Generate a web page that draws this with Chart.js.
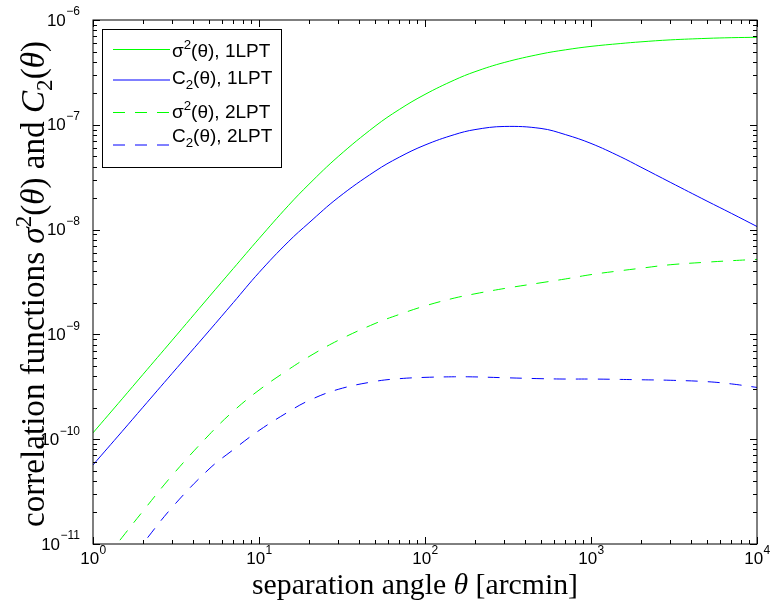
<!DOCTYPE html>
<html>
<head>
<meta charset="utf-8">
<script src="https://cdn.jsdelivr.net/npm/chart.js@4.4.1/dist/chart.umd.min.js"></script>
<style>
  html, body { margin: 0; padding: 0; background: #ffffff; }
  #wrap { width: 773px; height: 605px; }
</style>
</head>
<body>
<div id="wrap"><canvas id="chart" width="773" height="605"></canvas></div>
<script>
// Separation angle theta [arcmin]
const theta = [1, 1.5, 2, 3, 5, 7, 10, 15, 20, 30, 50, 70, 100, 150, 200, 300, 500, 700, 1000, 1500, 2000, 3000, 5000, 7000, 10000];

// sigma^2(theta) and C_2(theta) for first- and second-order LPT
const sigma2_1LPT = [1.15e-10, 2.43e-10, 4.15e-10, 8.8e-10, 2.28e-9, 4.25e-9, 8.2e-9, 1.69e-8, 2.71e-8, 4.98e-8, 9.68e-8, 1.40e-7, 1.95e-7, 2.67e-7, 3.21e-7, 3.93e-7, 4.74e-7, 5.19e-7, 5.60e-7, 5.96e-7, 6.19e-7, 6.46e-7, 6.68e-7, 6.78e-7, 6.84e-7];
const c2_1LPT = [5.68e-11, 1.19e-10, 2.02e-10, 4.25e-10, 1.08e-9, 2.01e-9, 3.89e-9, 7.64e-9, 1.16e-8, 2.02e-8, 3.60e-8, 4.91e-8, 6.41e-8, 8.05e-8, 9.0e-8, 9.64e-8, 9.23e-8, 8.07e-8, 6.64e-8, 4.97e-8, 3.94e-8, 2.83e-8, 1.87e-8, 1.43e-8, 1.07e-8];
const sigma2_2LPT = [5.1e-12, 1.16e-11, 2.06e-11, 4.52e-11, 1.10e-10, 1.85e-10, 2.94e-10, 4.60e-10, 6.14e-10, 8.77e-10, 1.27e-9, 1.55e-9, 1.87e-9, 2.22e-9, 2.44e-9, 2.74e-9, 3.11e-9, 3.38e-9, 3.72e-9, 4.05e-9, 4.28e-9, 4.62e-9, 4.89e-9, 5.05e-9, 5.20e-9];
const c2_2LPT = [2.5e-12, 5.65e-12, 1.01e-11, 2.24e-11, 5.19e-11, 7.94e-11, 1.21e-10, 1.82e-10, 2.34e-10, 2.99e-10, 3.56e-10, 3.78e-10, 3.89e-10, 3.94e-10, 3.93e-10, 3.86e-10, 3.78e-10, 3.75e-10, 3.75e-10, 3.72e-10, 3.69e-10, 3.65e-10, 3.54e-10, 3.37e-10, 3.12e-10];

// Decade tick values and their exponent labels
const xDecades = [1, 10, 100, 1000, 10000];
const xExponents = ['0', '1', '2', '3', '4'];
const yDecades = [1e-11, 1e-10, 1e-9, 1e-8, 1e-7, 1e-6];
const yExponents = ['\u221211', '\u221210', '\u22129', '\u22128', '\u22127', '\u22126'];

// Series labels (rich text pieces: sup / sub / italic)
const seriesNames = ['\u03c3\u00b2(\u03b8), 1LPT', 'C\u2082(\u03b8), 1LPT', '\u03c3\u00b2(\u03b8), 2LPT', 'C\u2082(\u03b8), 2LPT'];
const legendPieces = [
  [{ t: '\u03c3' }, { t: '2', sup: true }, { t: '(\u03b8), 1LPT' }],
  [{ t: 'C' }, { t: '2', sub: true }, { t: '(\u03b8), 1LPT' }],
  [{ t: '\u03c3' }, { t: '2', sup: true }, { t: '(\u03b8), 2LPT' }],
  [{ t: 'C' }, { t: '2', sub: true }, { t: '(\u03b8), 2LPT' }]
];
const xTitlePieces = [{ t: 'separation angle ' }, { t: '\u03b8', it: true }, { t: ' [arcmin]' }];
const yTitlePieces = [
  { t: 'correlation functions ' }, { t: '\u03c3', it: true }, { t: '2', sup: true },
  { t: '(' }, { t: '\u03b8', it: true }, { t: ') and ' }, { t: 'C', it: true },
  { t: '2', sub: true }, { t: '(' }, { t: '\u03b8', it: true }, { t: ')' }
];

const GREEN = '#00ff00';
const BLUE = '#0000ff';
const DASH = [12, 10];

function pts(ys) { return theta.map((x, i) => ({ x: x, y: ys[i] })); }

function richFont(p, size, family) {
  const s = (p.sup || p.sub) ? size * 0.7 : size;
  return (p.it ? 'italic ' : '') + s.toFixed(2) + 'px ' + family;
}
function richWidth(ctx, pieces, size, family) {
  let w = 0;
  pieces.forEach(p => { ctx.font = richFont(p, size, family); w += ctx.measureText(p.t).width; });
  return w;
}
// Font size that makes a title span the given length
function fitSize(ctx, pieces, family, length) {
  return 20 * length / richWidth(ctx, pieces, 20, family);
}
// Draws pieces starting at x, alphabetic baseline at y
function drawRich(ctx, pieces, x, y, size, family) {
  ctx.textAlign = 'left';
  ctx.textBaseline = 'alphabetic';
  let cx = x;
  pieces.forEach(p => {
    ctx.font = richFont(p, size, family);
    let dy = 0;
    if (p.sup) dy = -0.4 * size;
    if (p.sub) dy = 0.25 * size;
    ctx.fillText(p.t, cx, y + dy);
    cx += ctx.measureText(p.t).width;
  });
}

const axesFrame = {
  id: 'axesFrame',
  afterDatasetsDraw(chart) {
    const ctx = chart.ctx;
    const a = chart.chartArea;
    const xs = chart.scales.x, ys = chart.scales.y;
    ctx.save();
    ctx.strokeStyle = '#000';
    ctx.fillStyle = '#000';
    ctx.lineWidth = 1;

    // Box
    ctx.strokeRect(a.left, a.top, a.right - a.left, a.bottom - a.top);

    // Ticks (inward, on all four sides)
    const MAJ = 7, MIN = 4;
    ctx.beginPath();
    xDecades.forEach(d => {
      for (let k = 1; k <= 9; k++) {
        const v = d * k;
        if (v > xs.max * 1.0001) break;
        const px = Math.round(xs.getPixelForValue(v)) + 0.5;
        const len = k === 1 ? MAJ : MIN;
        ctx.moveTo(px, a.bottom); ctx.lineTo(px, a.bottom - len);
        ctx.moveTo(px, a.top); ctx.lineTo(px, a.top + len);
      }
    });
    yDecades.forEach(d => {
      for (let k = 1; k <= 9; k++) {
        const v = d * k;
        if (v > ys.max * 1.0001) break;
        const py = Math.round(ys.getPixelForValue(v)) + 0.5;
        const len = k === 1 ? MAJ : MIN;
        ctx.moveTo(a.left, py); ctx.lineTo(a.left + len, py);
        ctx.moveTo(a.right, py); ctx.lineTo(a.right - len, py);
      }
    });
    ctx.stroke();

    // Tick labels: 10^n
    const SANS = '"Liberation Sans", Arial, Helvetica, sans-serif';
    const base = 17, ex = 12;
    ctx.textBaseline = 'middle';
    xDecades.forEach((d, i) => {
      const px = xs.getPixelForValue(d);
      ctx.font = base + 'px ' + SANS;
      const w1 = ctx.measureText('10').width;
      ctx.font = ex + 'px ' + SANS;
      const w2 = ctx.measureText(xExponents[i]).width;
      const x0 = px - (w1 + w2) / 2;
      ctx.textAlign = 'left';
      ctx.font = base + 'px ' + SANS;
      ctx.fillText('10', x0, a.bottom + 15);
      ctx.font = ex + 'px ' + SANS;
      ctx.fillText(xExponents[i], x0 + w1 + 0.5, a.bottom + 7);
    });
    yDecades.forEach((d, i) => {
      const py = ys.getPixelForValue(d);
      ctx.font = ex + 'px ' + SANS;
      const w2 = ctx.measureText(yExponents[i]).width;
      const right = a.left - 13;
      ctx.textAlign = 'right';
      ctx.fillText(yExponents[i], right, py - 8);
      ctx.font = base + 'px ' + SANS;
      ctx.fillText('10', right - w2 - 0.5, py + 1);
    });

    // Axis titles
    const SERIF = '"Liberation Serif", "Times New Roman", Times, serif';
    const xSize = fitSize(ctx, xTitlePieces, SERIF, 326);
    drawRich(ctx, xTitlePieces, 252, 594, xSize, SERIF);
    const yLen = 486;
    const ySize = fitSize(ctx, yTitlePieces, SERIF, yLen);
    ctx.save();
    ctx.translate(44, 284 + yLen / 2);
    ctx.rotate(-Math.PI / 2);
    drawRich(ctx, yTitlePieces, 0, 0, ySize, SERIF);
    ctx.restore();

    // Legend
    const L = { x1: 102, y1: 29, x2: 281, y2: 167 };
    ctx.fillStyle = '#fff';
    ctx.fillRect(L.x1, L.y1, L.x2 - L.x1, L.y2 - L.y1);
    ctx.strokeStyle = '#000';
    ctx.lineWidth = 1;
    ctx.strokeRect(L.x1 + 0.5, L.y1 + 0.5, L.x2 - L.x1, L.y2 - L.y1);
    const lineYs = [49.5, 80, 112.5, 145];
    const baseYs = [57, 84, 118, 142];
    chart.data.datasets.forEach((ds, i) => {
      ctx.save();
      ctx.strokeStyle = ds.borderColor;
      ctx.lineWidth = 1;
      ctx.setLineDash(ds.borderDash || []);
      ctx.beginPath();
      ctx.moveTo(113, lineYs[i]);
      ctx.lineTo(170, lineYs[i]);
      ctx.stroke();
      ctx.restore();
      ctx.fillStyle = '#000';
      drawRich(ctx, legendPieces[i], 172, baseYs[i], 19, SANS);
    });
    ctx.restore();
  }
};

const common = { pointRadius: 0, borderWidth: 1, fill: false, tension: 0.4 };

new Chart(document.getElementById('chart'), {
  type: 'line',
  data: {
    datasets: [
      Object.assign({ label: seriesNames[0], data: pts(sigma2_1LPT), borderColor: GREEN }, common),
      Object.assign({ label: seriesNames[1], data: pts(c2_1LPT), borderColor: BLUE }, common),
      Object.assign({ label: seriesNames[2], data: pts(sigma2_2LPT), borderColor: GREEN, borderDash: DASH }, common),
      Object.assign({ label: seriesNames[3], data: pts(c2_2LPT), borderColor: BLUE, borderDash: DASH }, common)
    ]
  },
  options: {
    responsive: false,
    animation: false,
    events: [],
    layout: { padding: { top: 20, right: 16, left: 0, bottom: 0 } },
    plugins: { legend: { display: false }, tooltip: { enabled: false }, title: { display: false } },
    scales: {
      x: {
        type: 'logarithmic', min: 1, max: 10000,
        grid: { display: false, drawTicks: false },
        border: { display: false },
        ticks: { display: false },
        afterFit(s) { s.height = 61; }
      },
      y: {
        type: 'logarithmic', min: 1e-11, max: 1e-6,
        grid: { display: false, drawTicks: false },
        border: { display: false },
        ticks: { display: false },
        afterFit(s) { s.width = 93; }
      }
    }
  },
  plugins: [axesFrame]
});
</script>
</body>
</html>
